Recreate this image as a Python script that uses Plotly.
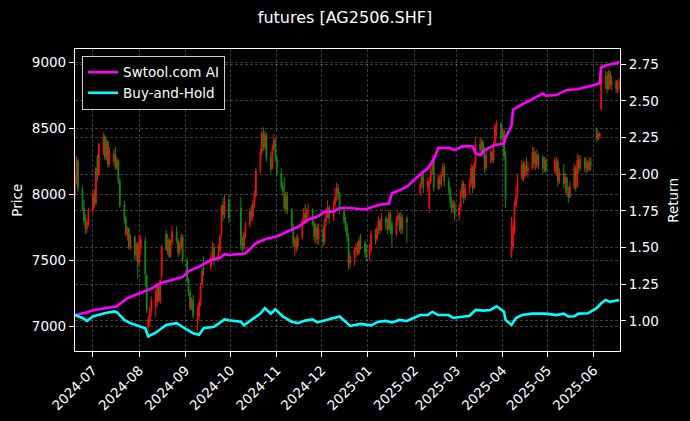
import pandas as pd
import plotly.graph_objects as go

# ---------------- data ----------------
start_date = "2024-06-19"
end_date = "2025-06-18"
exchange_holidays = [
    "2024-09-16", "2024-09-17", "2024-10-01", "2024-10-02", "2024-10-03", "2024-10-04",
    "2024-10-07", "2025-01-01", "2025-01-28", "2025-01-29", "2025-01-30", "2025-01-31",
    "2025-02-03", "2025-02-04", "2025-04-04", "2025-05-01", "2025-05-02", "2025-05-05",
    "2025-06-02",
]

opens = [
    7990, 8100, 8250, 8040, 7900, 7800, 7740, 7790,
    7880, 8000, 7930, 8280, 8150, 8320, 8440, 8280, 8400, 8230, 8250, 8310, 8200, 8260, 8100, 7920, 7820, 7690, 7740, 7600, 7680, 7540, 7620,
    7480, 7600, 7650, 7380, 6990, 7040, 7110, 7150, 7180, 7300, 7190, 7380, 7700, 7570, 7660, 7540, 7640, 7720, 7650, 7560, 7600, 7680,
    7500, 7350, 7260, 7140, 7200, 7020, 7080, 7180, 7320, 7440, 7450, 7520, 7600, 7510, 7580, 7700, 7920, 7850, 7960,
    7900, 7620, 7590, 7700, 7770, 7880, 7830, 7930, 7990, 8180, 8320, 8470, 8360, 8450, 8280, 8200, 8350, 8410,
    8280, 8160, 8060, 8000, 7890, 7990, 7880, 7750, 7630, 7650, 7600, 7680, 7800, 7860, 7800, 7870, 7880, 7780, 7680, 7750, 7660,
    7740, 7640, 7800, 7850, 7900, 7820, 7930, 7980, 8050, 8000, 7880, 7800, 7750, 7680, 7480, 7530, 7580, 7600, 7560, 7650, 7630, 7560,
    7540, 7580, 7700, 7660, 7740, 7800, 7730, 7820, 7790, 7740, 7850, 7780, 7700, 7800, 7840, 7830, 7740, 7820,
    8000, 8080, 8150, 8050, 7900, 8100, 8180, 8270, 8050, 8120, 8080, 8150, 8210, 8100, 8040, 7940, 7900, 7930,
    7840, 7900, 8000, 8080, 7980, 8050, 8080, 8200, 8050, 8230, 8380, 8340, 8400, 8320, 8200, 8300, 8320, 8260, 8390, 8500, 8540,
    8420, 8480, 8300, 7530, 7600, 7720, 7920, 7990, 8120, 8230, 8140, 8220, 8180, 8200, 8320, 8240, 8300, 8220, 8280, 8200, 8260,
    8180, 8160, 8250, 8100, 8170, 8080, 8130, 8030, 7980, 8060, 8200, 8060, 8260, 8200, 8270, 8200, 8240, 8190, 8250,
    8500, 8420, 8440, 8650, 8880, 8900, 8800, 8920, 8830, 8860, 8800, 8840,
]
highs = [
    8150, 8290, 8270, 8060, 7960, 7850, 7820, 7900,
    8030, 8040, 8210, 8300, 8390, 8470, 8460, 8420, 8410, 8360, 8340, 8360, 8285, 8270, 8120, 7950, 7840, 7760, 7750, 7700, 7690, 7640, 7640,
    7700, 7690, 7680, 7400, 7080, 7150, 7230, 7280, 7330, 7310, 7360, 7620, 7730, 7700, 7670, 7660, 7760, 7760, 7670, 7640, 7700, 7700,
    7520, 7370, 7280, 7220, 7240, 7150, 7210, 7330, 7450, 7530, 7560, 7640, 7630, 7620, 7700, 7920, 7980, 8000, 8000,
    7980, 7680, 7720, 7790, 7900, 7920, 7960, 8030, 8200, 8350, 8485, 8510, 8480, 8470, 8320, 8380, 8460, 8430,
    8300, 8200, 8100, 8130, 8020, 8020, 7900, 7780, 7680, 7690, 7700, 7820, 7900, 7930, 7900, 7930, 7900, 7800, 7780, 7780, 7780,
    7770, 7820, 7900, 7960, 7920, 7950, 8050, 8090, 8080, 8020, 7900, 7830, 7780, 7700, 7560, 7600, 7630, 7640, 7680, 7700, 7650, 7620,
    7620, 7730, 7740, 7760, 7830, 7820, 7860, 7840, 7820, 7880, 7870, 7800, 7830, 7880, 7860, 7870, 7850, 7840,
    8100, 8185, 8170, 8130, 8130, 8200, 8290, 8285, 8150, 8150, 8180, 8240, 8235, 8130, 8060, 7980, 7960, 7950,
    7930, 8035, 8110, 8100, 8080, 8120, 8235, 8220, 8250, 8435, 8435, 8420, 8410, 8360, 8340, 8335, 8340, 8400, 8540, 8560, 8550,
    8510, 8500, 8330, 7830, 7800, 7950, 8060, 8160, 8260, 8250, 8260, 8285, 8250, 8360, 8360, 8330, 8340, 8310, 8300, 8285, 8280,
    8285, 8285, 8270, 8200, 8235, 8160, 8135, 8060, 8100, 8235, 8220, 8310, 8300, 8300, 8285, 8280, 8260, 8280, 8285,
    8510, 8480, 8470, 8940, 8940, 8930, 8950, 8940, 8900, 8870, 8870, 8880,
]
lows = [
    7960, 8080, 8020, 7880, 7770, 7700, 7710, 7760,
    7860, 7900, 7920, 8100, 8140, 8300, 8260, 8260, 8200, 8210, 8220, 8190, 8190, 8080, 7900, 7780, 7680, 7650, 7580, 7580, 7500, 7500, 7360,
    7460, 7540, 7300, 7100, 6960, 7000, 7080, 7070, 7150, 7180, 7170, 7360, 7570, 7540, 7520, 7520, 7620, 7630, 7525, 7540, 7580, 7480,
    7330, 7230, 7120, 7120, 7060, 6960, 7040, 7150, 7290, 7380, 7420, 7500, 7460, 7490, 7560, 7680, 7800, 7820, 7780,
    7580, 7560, 7580, 7670, 7750, 7800, 7800, 7900, 7980, 8160, 8300, 8330, 8340, 8250, 8160, 8190, 8330, 8250,
    8140, 8040, 7990, 7880, 7860, 7850, 7720, 7600, 7530, 7560, 7580, 7660, 7780, 7780, 7780, 7820, 7760, 7650, 7630, 7620, 7620,
    7600, 7620, 7760, 7820, 7780, 7800, 7900, 7950, 7960, 7850, 7780, 7720, 7640, 7430, 7440, 7460, 7520, 7540, 7540, 7580, 7520, 7500,
    7500, 7560, 7620, 7640, 7700, 7700, 7720, 7730, 7700, 7730, 7700, 7600, 7680, 7760, 7720, 7700, 7700, 7630,
    7990, 8050, 8010, 8020, 7860, 8080, 8150, 8020, 8030, 8040, 8060, 8130, 8060, 8000, 7900, 7860, 7860, 7800,
    7800, 7880, 7970, 7930, 7960, 8000, 8060, 8010, 8040, 8200, 8300, 8290, 8280, 8160, 8180, 8235, 8240, 8240, 8380, 8440, 8380,
    8380, 8260, 7900, 7520, 7580, 7700, 7900, 7970, 8100, 8100, 8120, 8150, 8130, 8190, 8200, 8185, 8200, 8190, 8160, 8170, 8160,
    8160, 8140, 8060, 8080, 8050, 8010, 8000, 7935, 7970, 8040, 8020, 8050, 8160, 8180, 8170, 8160, 8170, 8180, 8180,
    8400, 8410, 8435, 8640, 8800, 8770, 8790, 8800, 8790, 8770, 8770, 8780,
]
closes = [
    8120, 8260, 8050, 7900, 7800, 7740, 7790, 7880,
    8000, 7930, 8200, 8150, 8380, 8420, 8280, 8400, 8230, 8330, 8310, 8210, 8260, 8100, 7920, 7820, 7700, 7740, 7600, 7680, 7540, 7620, 7480,
    7640, 7660, 7400, 7120, 7050, 7120, 7200, 7260, 7300, 7200, 7350, 7600, 7580, 7650, 7530, 7650, 7720, 7650, 7560, 7620, 7680, 7500,
    7350, 7260, 7140, 7200, 7080, 7100, 7180, 7300, 7420, 7420, 7520, 7600, 7500, 7580, 7680, 7900, 7850, 7950, 7820,
    7620, 7600, 7700, 7760, 7870, 7840, 7930, 8000, 8180, 8320, 8460, 8360, 8450, 8280, 8190, 8350, 8420, 8280,
    8160, 8060, 8020, 7900, 7990, 7880, 7750, 7630, 7660, 7600, 7670, 7800, 7860, 7800, 7870, 7880, 7780, 7680, 7750, 7660, 7740,
    7640, 7800, 7850, 7900, 7820, 7930, 7980, 8050, 8010, 7880, 7800, 7750, 7680, 7480, 7530, 7580, 7600, 7560, 7650, 7630, 7560, 7540,
    7580, 7700, 7660, 7740, 7800, 7730, 7820, 7790, 7740, 7850, 7720, 7700, 7800, 7840, 7830, 7740, 7820, 7790,
    8080, 8150, 8050, 8100, 8100, 8180, 8260, 8050, 8120, 8080, 8150, 8210, 8100, 8040, 7940, 7900, 7930, 7840,
    7900, 8000, 8080, 7980, 8050, 8080, 8200, 8050, 8230, 8380, 8340, 8400, 8320, 8200, 8300, 8320, 8260, 8380, 8520, 8540, 8420,
    8480, 8300, 7960, 7600, 7760, 7920, 7980, 8120, 8230, 8140, 8220, 8180, 8200, 8320, 8240, 8300, 8220, 8280, 8200, 8260, 8180,
    8260, 8250, 8100, 8170, 8080, 8130, 8030, 7980, 8060, 8200, 8060, 8260, 8200, 8270, 8200, 8240, 8190, 8250, 8220,
    8420, 8460, 8460, 8880, 8900, 8800, 8920, 8830, 8860, 8800, 8840, 8850,
]

ai_dates = [
    "2024-06-19", "2024-06-26", "2024-07-02", "2024-07-11", "2024-07-17", "2024-07-24", "2024-08-02",
    "2024-08-09", "2024-08-16", "2024-08-23", "2024-08-30", "2024-09-03", "2024-09-10", "2024-09-18",
    "2024-09-24", "2024-09-27", "2024-09-30", "2024-10-11", "2024-10-18", "2024-10-25", "2024-11-01",
    "2024-11-08", "2024-11-15", "2024-11-22", "2024-11-29", "2024-12-03", "2024-12-09", "2024-12-13",
    "2024-12-20", "2024-12-30", "2025-01-08", "2025-01-15", "2025-01-17", "2025-01-22", "2025-01-27",
    "2025-02-05", "2025-02-10", "2025-02-14", "2025-02-17", "2025-02-24", "2025-02-28", "2025-03-05",
    "2025-03-12", "2025-03-14", "2025-03-17", "2025-03-20", "2025-03-27", "2025-04-02", "2025-04-03",
    "2025-04-07", "2025-04-08", "2025-04-11", "2025-04-16", "2025-04-21", "2025-04-28", "2025-04-30",
    "2025-05-07", "2025-05-14", "2025-05-21", "2025-05-29", "2025-06-05", "2025-06-06", "2025-06-10",
    "2025-06-13", "2025-06-17", "2025-06-18",
]
ai_values = [
    1.04, 1.055, 1.075, 1.09, 1.10, 1.155, 1.19,
    1.22, 1.26, 1.28, 1.30, 1.34, 1.37, 1.415,
    1.43, 1.455, 1.45, 1.46, 1.53, 1.56, 1.575,
    1.61, 1.64, 1.69, 1.715, 1.745, 1.745, 1.77,
    1.77, 1.76, 1.79, 1.80, 1.87, 1.89, 1.915,
    2.00, 2.04, 2.10, 2.18, 2.18, 2.165, 2.19,
    2.19, 2.145, 2.13, 2.165, 2.20, 2.21, 2.25,
    2.33, 2.44, 2.46, 2.485, 2.51, 2.55, 2.535,
    2.54, 2.575, 2.58, 2.60, 2.62, 2.73, 2.745,
    2.75, 2.76, 2.77,
]

bh_dates = [
    "2024-06-19", "2024-06-24", "2024-06-27", "2024-07-01", "2024-07-08", "2024-07-15", "2024-07-17",
    "2024-07-22", "2024-07-26", "2024-07-31", "2024-08-05", "2024-08-07", "2024-08-12", "2024-08-19",
    "2024-08-26", "2024-09-02", "2024-09-06", "2024-09-10", "2024-09-13", "2024-09-20", "2024-09-27",
    "2024-09-30", "2024-10-08", "2024-10-10", "2024-10-15", "2024-10-21", "2024-10-24", "2024-10-28",
    "2024-10-31", "2024-11-05", "2024-11-11", "2024-11-15", "2024-11-20", "2024-11-25", "2024-11-28",
    "2024-12-04", "2024-12-10", "2024-12-13", "2024-12-17", "2024-12-20", "2024-12-27", "2025-01-03",
    "2025-01-08", "2025-01-13", "2025-01-17", "2025-01-22", "2025-01-27", "2025-02-05", "2025-02-10",
    "2025-02-13", "2025-02-17", "2025-02-24", "2025-02-27", "2025-03-05", "2025-03-10", "2025-03-14",
    "2025-03-19", "2025-03-24", "2025-03-28", "2025-04-02", "2025-04-03", "2025-04-07", "2025-04-10",
    "2025-04-14", "2025-04-21", "2025-04-30", "2025-05-07", "2025-05-12", "2025-05-15", "2025-05-19",
    "2025-05-22", "2025-05-28", "2025-06-03", "2025-06-06", "2025-06-09", "2025-06-12", "2025-06-18",
]
bh_values = [
    1.04, 1.02, 1.00, 1.03, 1.05, 1.065, 1.06,
    1.007, 0.985, 0.966, 0.95, 0.895, 0.92, 0.973,
    0.985, 0.94, 0.916, 0.905, 0.95, 0.96, 1.01,
    1.005, 0.995, 0.97, 1.007, 1.05, 1.087, 1.05,
    1.08, 1.03, 0.995, 0.985, 1.002, 1.01, 0.99,
    1.007, 1.02, 1.03, 0.995, 0.966, 0.98, 0.97,
    0.995, 1.0, 0.99, 1.007, 1.0, 1.04, 1.04,
    1.063, 1.04, 1.04, 1.02, 1.03, 1.035, 1.075,
    1.07, 1.075, 1.10, 1.063, 1.007, 0.973, 1.02,
    1.04, 1.05, 1.05, 1.04, 1.05, 1.03, 1.032,
    1.05, 1.052, 1.087, 1.12, 1.143, 1.13, 1.143,
]

price_ticks = [7000, 7500, 8000, 8500, 9000]
return_ticks = [1.00, 1.25, 1.50, 1.75, 2.00, 2.25, 2.50, 2.75]

# ---------------- figure ----------------
holiday_set = set(exchange_holidays)
trade_dates = [d for d in pd.bdate_range(start_date, end_date)
               if d.strftime("%Y-%m-%d") not in holiday_set]
if not (len(trade_dates) == len(opens) == len(highs) == len(lows) == len(closes)):
    raise SystemExit(f"length mismatch {len(trade_dates)} {len(opens)} {len(highs)} {len(lows)} {len(closes)}")

RED = "#f01010"
GREEN = "#138a13"
GRID = "rgba(150,150,150,0.4)"
FONT = "DejaVu Sans"

fig = go.Figure()
fig.add_trace(go.Candlestick(
    x=trade_dates, open=opens, high=highs, low=lows, close=closes,
    increasing=dict(line=dict(color=RED, width=1), fillcolor=RED),
    decreasing=dict(line=dict(color=GREEN, width=1), fillcolor=GREEN),
    whiskerwidth=0, showlegend=False, yaxis="y", hoverinfo="skip",
))
fig.add_trace(go.Scatter(
    x=ai_dates, y=ai_values, mode="lines", name="Swtool.com AI",
    line=dict(color="#ff00ff", width=2.6), yaxis="y2",
))
fig.add_trace(go.Scatter(
    x=bh_dates, y=bh_values, mode="lines", name="Buy-and-Hold",
    line=dict(color="#00ffff", width=2.6), yaxis="y2",
))

axis_common = dict(
    ticks="outside", ticklen=5, tickwidth=1, tickcolor="white",
    showline=True, linecolor="white", linewidth=1.2,
    showgrid=True, gridcolor=GRID, gridwidth=0.6, griddash="3px,2px",
    zeroline=False, tickfont=dict(family=FONT, size=13.5, color="white"),
)

fig.update_layout(
    width=690, height=421,
    paper_bgcolor="black", plot_bgcolor="black",
    margin=dict(l=75, r=70, t=49, b=70, autoexpand=False),
    font=dict(family=FONT, size=13.5, color="white"),
    title=dict(text="futures [AG2506.SHF]", x=0.5, xanchor="center",
               y=1 - 17 / 421, yref="container", yanchor="middle",
               font=dict(family=FONT, size=16, color="white")),
    showlegend=True,
    legend=dict(x=0.013, y=0.977, xanchor="left", yanchor="top",
                bgcolor="black", bordercolor="#d0d0d0", borderwidth=1,
                font=dict(family=FONT, size=13.5, color="white"),
                itemwidth=30, tracegroupgap=0),
    xaxis=dict(
        type="date", range=["2024-06-19", "2025-06-18 14:00"],
        rangeslider=dict(visible=False),
        tickformat="%Y-%m", dtick="M1", tick0="2024-07-01", tickangle=-45,
        mirror=True, **axis_common,
    ),
    yaxis=dict(range=[6813, 9104], tickvals=price_ticks, mirror=True, **axis_common),
    yaxis2=dict(range=[0.795, 2.854], tickvals=return_ticks, tickformat=".2f",
                overlaying="y", side="right", **axis_common),
    annotations=[
        dict(text="Price", xref="paper", yref="paper", x=-0.107, y=0.5,
             textangle=-90, showarrow=False, xanchor="center", yanchor="middle",
             font=dict(family=FONT, size=13.5, color="white")),
        dict(text="Return", xref="paper", yref="paper", x=1.097, y=0.5,
             textangle=-90, showarrow=False, xanchor="center", yanchor="middle",
             font=dict(family=FONT, size=13.5, color="white")),
    ],
)

fig.write_html("out.html", config={"displayModeBar": False})

# remove the browser's default 8px body margin so the figure sits at (0, 0)
with open("out.html", "r", encoding="utf-8") as fh:
    page = fh.read()
page = page.replace("<body>", '<body style="margin:0;padding:0;background:black;">', 1)
with open("out.html", "w", encoding="utf-8") as fh:
    fh.write(page)
